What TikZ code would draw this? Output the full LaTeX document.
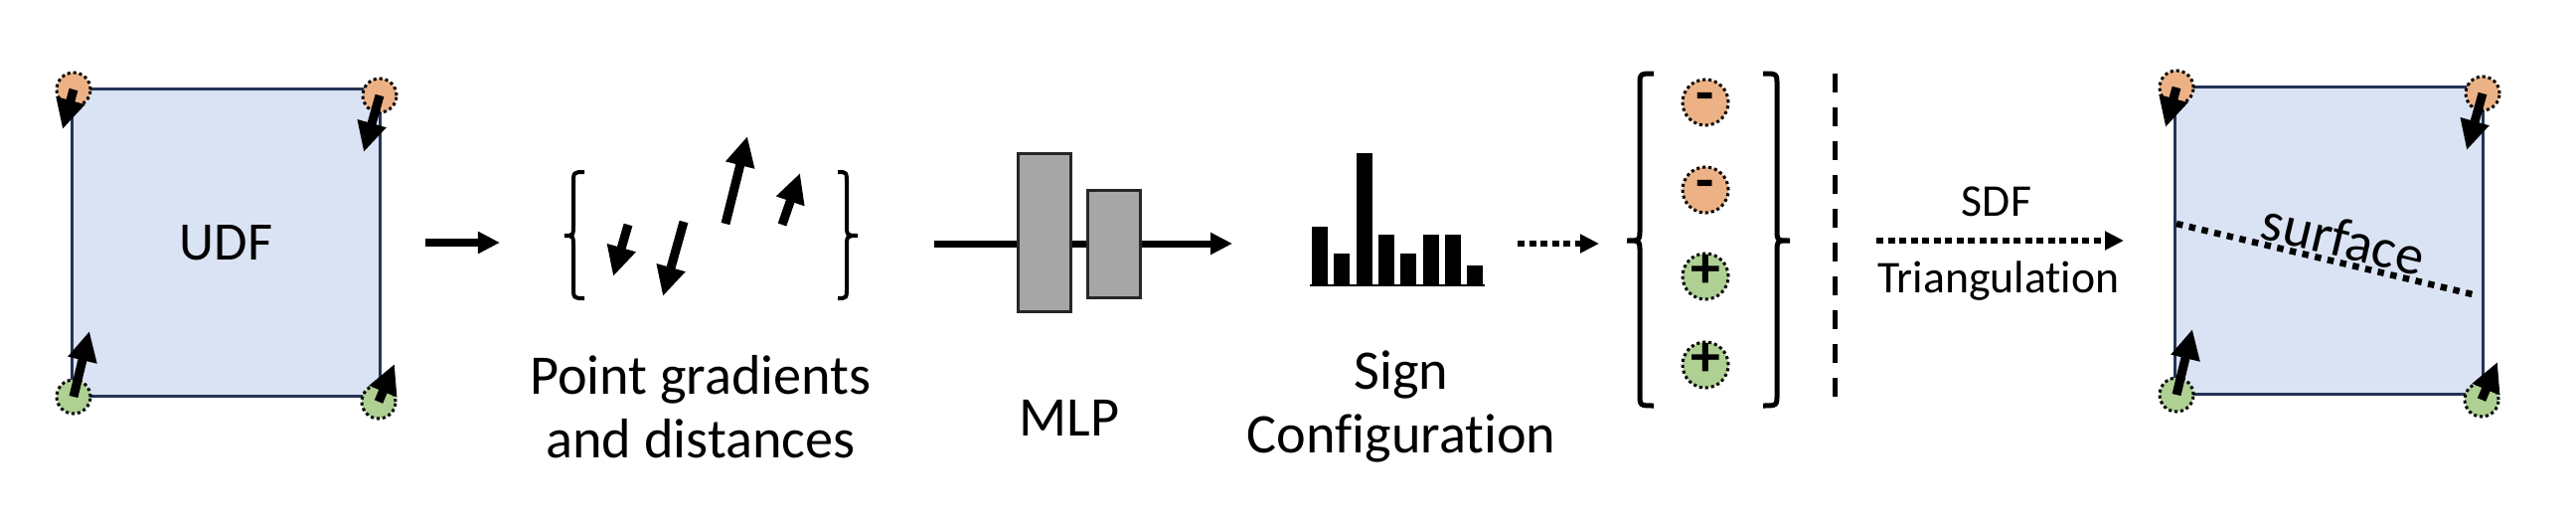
\documentclass[tikz,border=0pt]{standalone}
\usepackage{fontspec}
\setmainfont{Carlito}[Ligatures=NoCommon]
\usetikzlibrary{arrows.meta}

\definecolor{udfblue}{RGB}{218,227,243}
\definecolor{udfedge}{RGB}{36,52,86}
\definecolor{negorange}{RGB}{236,178,134}
\definecolor{posgreen}{RGB}{174,208,147}
\definecolor{mlpgray}{RGB}{166,166,166}

\begin{document}
\begin{tikzpicture}[
  x=0.01cm, y=-0.01cm,
  cell/.style={draw=udfedge, line width=0.03cm, fill=udfblue, minimum width=3.09cm, minimum height=3.08cm, inner sep=0pt, font=\fontsize{15.5}{18}\selectfont},
  cornerdot/.style={circle, draw, line width=0.03cm, dash pattern=on 0.03cm off 0.03cm, minimum size=0.34cm, inner sep=0pt},
  signdot/.style={cornerdot, minimum size=0.46cm, font=\bfseries\fontsize{17}{17}\selectfont, text depth=0pt},
  gradarrow/.style={line width=0.09cm, -{Triangle[width=0.28cm, length=0.30cm]}},
  flowarrow/.style={line width=0.08cm, -{Triangle[width=0.21cm, length=0.22cm]}},
  dotflow/.style={line width=0.055cm, dash pattern=on 0.07cm off 0.045cm, -{Triangle[width=0.18cm, length=0.19cm]}},
  mlpbox/.style={draw=black!85, line width=0.03cm, fill=mlpgray, minimum width=0.53cm, inner sep=0pt},
  stagetext/.style={font=\fontsize{16}{18.2}\selectfont, align=center},
  smalltext/.style={font=\fontsize{13}{15}\selectfont},
]
  \useasboundingbox (0,0) rectangle (2592,524);

  % UDF cell and reconstructed cell
  \node[cell] (udf) at (227.5,244) {UDF};
  \node[cell] (mesh) at (2343.5,242) {};
  \draw[line width=0.065cm, dash pattern=on 0.065cm off 0.065cm] (2190,225) -- (2492,297);
  \node[stagetext, rotate=-13.4] (surf) at (2358,240) {surface};

  % corner samples with gradients
  \foreach \sq/\ox/\oy in {udf/73/90, mesh/2189/88} {
    \foreach \dx/\dy/\col/\gx/\gy [count=\k] in {
      1/0/negorange/-11/40,
      309/6/negorange/-16/57,
      1/309/posgreen/16/-66,
      308/314/posgreen/16/-38
    } {
      \node[cornerdot, fill=\col] (\sq-c\k) at (\ox+\dx, \oy+\dy) {};
      \draw[gradarrow] (\sq-c\k.center) -- ++(\gx,\gy);
    }
  }

  % braces
  \foreach \t/\s/\p/\ya/\ym/\yb/\lw in {
    588/577/568/173/237/300/0.04cm,
    843/852/863/173/237/300/0.04cm,
    1664/1650/1637/74/242/408/0.05cm,
    1774/1788/1801/74/242/408/0.05cm
  } {
    \draw[line width=\lw] (\t,\ya) .. controls (\s,\ya) .. (\s,\ya+12) -- (\s,\ym-12)
      .. controls (\s,\ym) .. (\p,\ym) .. controls (\s,\ym) .. (\s,\ym+12)
      -- (\s,\yb-12) .. controls (\s,\yb) .. (\t,\yb);
  }

  % point gradients
  \foreach \ax/\ay/\bx/\by in {632/226/617/278, 688/223/667/298, 730/225/752/137, 787/226/805/174} {
    \draw[gradarrow] (\ax,\ay) -- (\bx,\by);
  }
  \node[stagetext] (gradlbl) at (705,409) {Point gradients\\and distances};

  % MLP
  \coordinate (mlpin) at (940,245);
  \coordinate (mlpout) at (1240,245);
  \draw[line width=0.07cm, -{Triangle[width=0.21cm, length=0.22cm]}] (mlpin) -- (mlpout);
  \node[mlpbox, minimum height=1.58cm] (mlp1) at (1050.5,234) {};
  \node[mlpbox, minimum height=1.07cm] (mlp2) at (1120.5,245.5) {};
  \node[stagetext] (mlplbl) at (1076,420) {MLP};

  % sign histogram
  \foreach \i/\h in {0/228, 1/255, 2/154, 3/236, 4/255, 5/236, 6/236, 7/267} {
    \fill (1320+\i*22.3,287) rectangle ++(16,\h-287);
  }
  \draw[line width=0.02cm] (1318,287) -- (1494,287);
  \node[stagetext] (signlbl) at (1410,409) {Sign\\Configuration};

  % sign configuration
  \foreach \y/\s/\col/\th [count=\k] in {103/-/negorange/0.58em, 191/-/negorange/0.58em, 278/+/posgreen/0.66em, 367/+/posgreen/0.66em} {
    \node[signdot, fill=\col, text height=\th] (s\k) at (1716,\y) {\s};
  }
  \draw[line width=0.05cm, dash pattern=on 0.19cm off 0.15cm] (1846,74) -- (1846,408);

  % connectors
  \coordinate (udfout) at (428,244);
  \coordinate (gradin) at (503,244);
  \coordinate (histout) at (1527,245);
  \coordinate (signin) at (1609,245);
  \coordinate (sdfout) at (1888,242);
  \coordinate (meshin) at (2137,242);
  \draw[flowarrow] (udfout) -- (gradin);
  \draw[dotflow] (histout) -- (signin);
  \draw[dotflow] (sdfout) -- (meshin);
  \node[smalltext] (sdflbl) at (2009,203) {SDF};
  \node[smalltext] (trilbl) at (2011,283) {Triangulation};
\end{tikzpicture}
\end{document}
